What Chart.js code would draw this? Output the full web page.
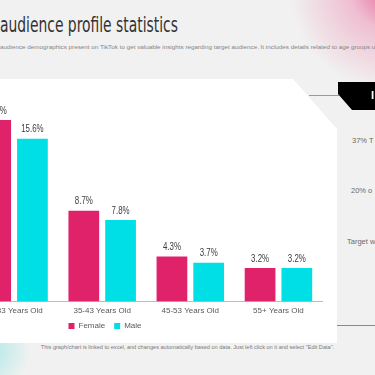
<!DOCTYPE html>
<html>
<head>
<meta charset="utf-8">
<script src="https://cdn.jsdelivr.net/npm/chart.js@4/dist/chart.umd.min.js"></script>
<style>
  html, body { margin: 0; padding: 0; }
  body {
    width: 375px; height: 375px; overflow: hidden; position: relative;
    background: #f1f1f1;
    font-family: "Liberation Sans", Arial, sans-serif;
  }
  .glowPink {
    position: absolute; left: 0; top: 0; width: 375px; height: 375px;
    background: radial-gradient(circle at 390px -10px, rgba(230,80,140,0.85) 0px, rgba(236,130,170,0.45) 40px, rgba(241,241,241,0) 100px);
  }
  .glowTeal {
    position: absolute; left: 0; top: 0; width: 375px; height: 375px;
    background: radial-gradient(circle at -15px 350px, rgba(120,225,225,0.6) 0px, rgba(241,241,241,0) 45px);
  }
  .titulo {
    position: absolute; left: 0; top: 12px; white-space: nowrap;
    font-family: "DejaVu Sans Condensed", "DejaVu Sans", sans-serif;
    font-size: 22px; color: #333; transform-origin: 0 0;
  }
  .subtitulo {
    position: absolute; left: 0; top: 44px; white-space: nowrap;
    font-size: 5.6px; color: #858585; transform-origin: 0 0;
  }
  .cartao {
    position: absolute; left: -20px; top: 79px; width: 357px; height: 264px;
    background: #fff;
    clip-path: polygon(0 0, 313px 0, 357px 50px, 357px 264px, 0 264px);
  }
  .linhaTopo { position: absolute; left: 309px; top: 95px; width: 30px; height: 1px; background: #999; }
  .caixaPreta {
    position: absolute; left: 338px; top: 82px; width: 40px; height: 28px; background: #000;
    clip-path: polygon(0 0, 40px 0, 40px 28px, 14px 28px, 0 12px);
  }
  .caixaPreta span { position: absolute; left: 33px; top: 7px; color: #fff; font-size: 11px; font-weight: bold; }
  .item { position: absolute; font-size: 7.5px; color: #6a6a6a; white-space: nowrap; }
  .linhaBaixo { position: absolute; left: 337px; top: 325px; width: 40px; height: 1px; background: #8a8a8a; }
  .rodape {
    position: absolute; left: 0; width: 375px; top: 344px; text-align: center;
    font-size: 5.6px; color: #7a7a7a; white-space: nowrap;
  }
  #caixaGrafico { position: absolute; left: -127px; top: 79px; width: 464px; height: 265px; }
</style>
</head>
<body>
<div class="glowPink"></div>
<div class="glowTeal"></div>
<div class="titulo" id="titulo">audience profile statistics</div>
<div class="subtitulo" id="subtitulo">audience demographics present on TikTok to get valuable insights regarding target audience. It includes details related to age groups us</div>
<div class="cartao"></div>
<div class="linhaTopo"></div>
<div class="caixaPreta"><span>I</span></div>
<div class="item" style="left:352px; top:136px;">37% T</div>
<div class="item" style="left:351px; top:186px;">20% o</div>
<div class="item" style="left:347px; top:237px;">Target w</div>
<div class="linhaBaixo"></div>
<div class="rodape">This graph/chart is linked to excel, and changes automatically based on data. Just left click on it and select "Edit Data".</div>
<div id="caixaGrafico"><canvas id="grafico"></canvas></div>

<script>
// dados
const faixasEtarias = ["25-33 Years Old", "35-43 Years Old", "45-53 Years Old", "55+ Years Old"];
const valoresFemale = [17.4, 8.7, 4.3, 3.2];
const valoresMale = [15.6, 7.8, 3.7, 3.2];

// ajusta a largura do titulo (fonte condensada)
function encaixar(id, largura) {
    const el = document.getElementById(id);
    const w = el.scrollWidth;
    el.style.transform = "scaleX(" + (largura / w) + ")";
}
encaixar("titulo", 178);
encaixar("subtitulo", 378);

// rotulos em cima das barras
const rotulosBarras = {
    id: "rotulosBarras",
    afterDatasetsDraw(chart) {
        const ctx = chart.ctx;
        ctx.save();
        ctx.fillStyle = "#3c3c3c";
        ctx.font = "11px 'Liberation Sans', Arial, sans-serif";
        ctx.textAlign = "center";
        ctx.textBaseline = "bottom";
        chart.data.datasets.forEach(function (ds, i) {
            chart.getDatasetMeta(i).data.forEach(function (barra, j) {
                ctx.save();
                ctx.translate(barra.x, barra.y - 4);
                ctx.scale(0.72, 1);
                ctx.fillText(ds.data[j].toFixed(1) + "%", 0, 0);
                ctx.restore();
            });
        });
        ctx.restore();
    }
};

new Chart(document.getElementById("grafico"), {
    type: "bar",
    data: {
        labels: faixasEtarias,
        datasets: [
            { label: "Female", data: valoresFemale, backgroundColor: "#e0226a" },
            { label: "Male", data: valoresMale, backgroundColor: "#00dfe5" }
        ]
    },
    options: {
        responsive: true,
        maintainAspectRatio: false,
        animation: false,
        layout: { padding: { left: 14.5, right: 14.5, top: 14, bottom: 4 } },
        categoryPercentage: 0.834,
        barPercentage: 0.836,
        scales: {
            x: {
                grid: { display: false },
                border: { color: "#bcbcbc", width: 1 },
                ticks: { color: "#595959", font: { size: 8, family: "'Liberation Sans', Arial" }, padding: -3 }
            },
            y: {
                min: 0, max: 20,
                grid: { display: false },
                border: { display: false },
                ticks: { display: false },
                afterFit: function (escala) { escala.width = 82.5; }
            }
        },
        plugins: {
            legend: {
                position: "bottom",
                labels: {
                    boxWidth: 6, boxHeight: 6, padding: 9,
                    color: "#595959",
                    font: { size: 8, family: "'Liberation Sans', Arial" }
                }
            },
            tooltip: { enabled: false }
        }
    },
    plugins: [rotulosBarras]
});
</script>
</body>
</html>
